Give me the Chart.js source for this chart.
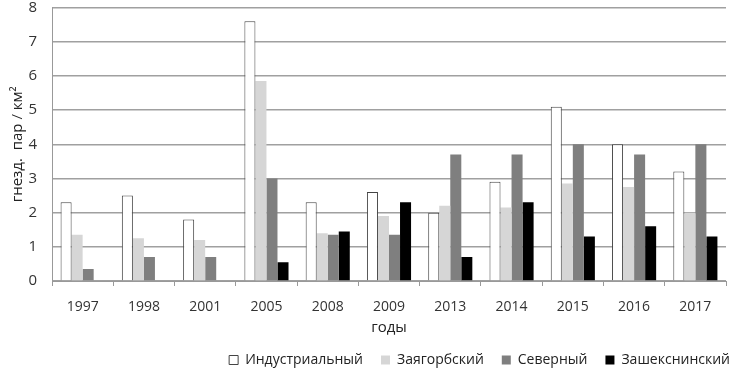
<!DOCTYPE html>
<html>
<head>
<meta charset="utf-8">
<script src="https://cdn.jsdelivr.net/npm/chart.js@4/dist/chart.umd.min.js"></script>
<style>
  html, body { margin: 0; padding: 0; background: #fff; }
  #wrap { width: 732px; height: 371px; }
</style>
</head>
<body>
<div id="wrap"><canvas id="chart" width="732" height="371"></canvas></div>
<script>
// годы наблюдений
const years = ["1997", "1998", "2001", "2005", "2008", "2009", "2013", "2014", "2015", "2016", "2017"];

// плотность гнездящихся пар по районам
const industrialny = [2.3, 2.5, 1.8, 7.6, 2.3, 2.6, 2.0, 2.9, 5.1, 4.0, 3.2];
const zayagorbsky = [1.35, 1.25, 1.2, 5.85, 1.4, 1.9, 2.2, 2.15, 2.85, 2.75, 2.0];
const severny = [0.35, 0.7, 0.7, 3.0, 1.35, 1.35, 3.7, 3.7, 4.0, 3.7, 4.0];
const zasheksninsky = [0, 0, 0, 0.55, 1.45, 2.3, 0.7, 2.3, 1.3, 1.6, 1.3];

const yTicks = [0, 1, 2, 3, 4, 5, 6, 7, 8];

const textColor = "#333";
const fontFamily = "'Open Sans', sans-serif";

// легенду прижимаем к правому краю картинки
const legendShift = {
  id: "legendShift",
  afterLayout(chart) {
    chart.legend.left += 22;
    chart.legend.right += 22;
  },
};

const ctx = document.getElementById("chart").getContext("2d");
new Chart(ctx, {
  type: "bar",
  data: {
    labels: years,
    datasets: [
      {
        label: "Индустриальный",
        data: industrialny,
        backgroundColor: "#ffffff",
        borderColor: "#444",
        borderWidth: 1,
      },
      {
        label: "Заягорбский",
        data: zayagorbsky,
        backgroundColor: "#d6d6d6",
        borderWidth: 0,
      },
      {
        label: "Северный",
        data: severny,
        backgroundColor: "#7f7f7f",
        borderWidth: 0,
      },
      {
        label: "Зашекснинский",
        data: zasheksninsky,
        backgroundColor: "#000000",
        borderWidth: 0,
      },
    ],
  },
  plugins: [legendShift],
  options: {
    responsive: false,
    animation: false,
    layout: {
      padding: { top: 0, right: 6, bottom: -6, left: 6 },
    },
    datasets: {
      bar: {
        categoryPercentage: 0.72,
        barPercentage: 1,
      },
    },
    plugins: {
      tooltip: { enabled: false },
      legend: {
        position: "bottom",
        align: "end",
        labels: {
          color: "#222",
          boxWidth: 9,
          boxHeight: 9,
          padding: 18,
          font: { family: fontFamily, size: 14 },
        },
      },
    },
    scales: {
      x: {
        afterFit: (axis) => {
          axis.height = 54;
        },
        grid: {
          display: true,
          drawOnChartArea: false,
          offset: true,
          tickLength: 5,
          color: "#999",
        },
        border: { color: "#999", width: 1 },
        ticks: {
          color: textColor,
          padding: 13,
          font: { family: fontFamily, size: 14 },
        },
        title: {
          display: true,
          text: "годы",
          color: "#222",
          padding: { top: 5, bottom: 0 },
          font: { family: fontFamily, size: 15, lineHeight: 1 },
        },
      },
      y: {
        min: 0,
        max: 8,
        afterBuildTicks: (axis) => {
          axis.ticks = yTicks.map((v) => ({ value: v }));
        },
        afterFit: (axis) => {
          axis.width = 46;
        },
        grid: {
          color: "#a0a0a0",
          lineWidth: 1.5,
          drawTicks: true,
          tickLength: 15,
          tickColor: "rgba(0,0,0,0)",
        },
        border: { display: true, color: "#999" },
        ticks: {
          color: textColor,
          padding: 0,
          font: { family: fontFamily, size: 15, lineHeight: 1 },
        },
        title: {
          display: true,
          text: "гнезд.  пар / км²",
          color: "#222",
          padding: { top: 3, bottom: 1 },
          font: { family: fontFamily, size: 15 },
        },
      },
    },
  },
});
</script>
</body>
</html>
